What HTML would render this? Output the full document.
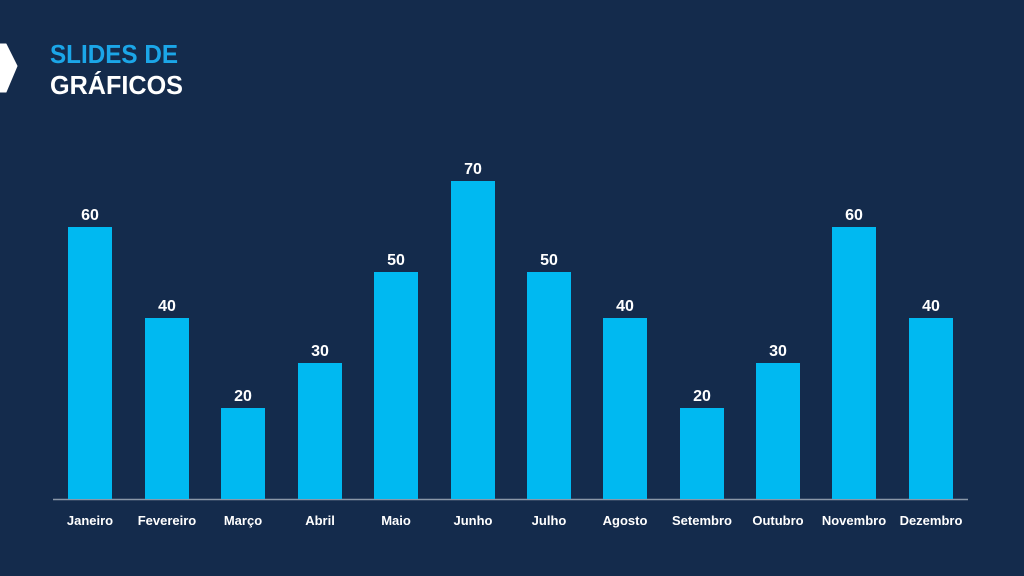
<!DOCTYPE html>
<html><head><meta charset="utf-8"><style>
html,body{margin:0;padding:0;background:#142b4c;}
svg{display:block;font-family:"Liberation Sans",sans-serif;font-weight:bold;}
</style></head><body>
<svg width="1024" height="576" viewBox="0 0 1024 576" xmlns="http://www.w3.org/2000/svg">
<rect width="1024" height="576" fill="#142b4c"/>
<polygon points="0,44 6,44 17,66 6,92 0,92" fill="#ffffff" stroke="#ffffff" stroke-width="1" stroke-linejoin="round"/>
<text x="50" y="63" font-size="26" fill="#1ba6e8" textLength="128" lengthAdjust="spacingAndGlyphs">SLIDES DE</text>
<text x="50" y="94" font-size="26" fill="#ffffff" textLength="133" lengthAdjust="spacingAndGlyphs">GRÁFICOS</text>
<line x1="53" y1="499.5" x2="968" y2="499.5" stroke="#8a97a8" stroke-width="1.5"/>
<g fill="#00b9f1">
<rect x="68" y="227" width="44" height="272"/>
<rect x="145" y="318" width="44" height="181"/>
<rect x="221" y="408" width="44" height="91"/>
<rect x="298" y="363" width="44" height="136"/>
<rect x="374" y="272" width="44" height="227"/>
<rect x="451" y="181" width="44" height="318"/>
<rect x="527" y="272" width="44" height="227"/>
<rect x="603" y="318" width="44" height="181"/>
<rect x="680" y="408" width="44" height="91"/>
<rect x="756" y="363" width="44" height="136"/>
<rect x="832" y="227" width="44" height="272"/>
<rect x="909" y="318" width="44" height="181"/>
</g>
<g fill="#ffffff" font-size="16" text-anchor="middle">
<text x="90" y="220">60</text>
<text x="167" y="311">40</text>
<text x="243" y="401">20</text>
<text x="320" y="356">30</text>
<text x="396" y="265">50</text>
<text x="473" y="174">70</text>
<text x="549" y="265">50</text>
<text x="625" y="311">40</text>
<text x="702" y="401">20</text>
<text x="778" y="356">30</text>
<text x="854" y="220">60</text>
<text x="931" y="311">40</text>
</g>
<g fill="#ffffff" font-size="13" text-anchor="middle">
<text x="90" y="525">Janeiro</text>
<text x="167" y="525">Fevereiro</text>
<text x="243" y="525">Março</text>
<text x="320" y="525">Abril</text>
<text x="396" y="525">Maio</text>
<text x="473" y="525">Junho</text>
<text x="549" y="525">Julho</text>
<text x="625" y="525">Agosto</text>
<text x="702" y="525">Setembro</text>
<text x="778" y="525">Outubro</text>
<text x="854" y="525">Novembro</text>
<text x="931" y="525">Dezembro</text>
</g>
</svg>
</body></html>
